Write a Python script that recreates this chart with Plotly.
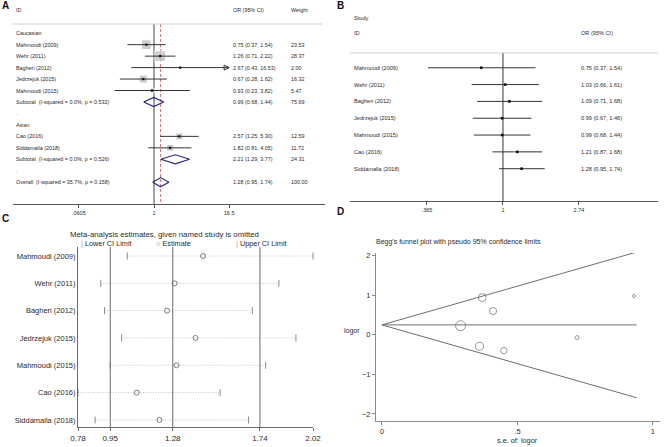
import math
import plotly.graph_objects as go

W, H = 669, 447

# ---- data -------------------------------------------------------------
studies = ["Mahmoudi (2009)", "Wehr (2011)", "Bagheri (2012)", "Jedrzejuk (2015)",
           "Mahmoudi (2015)", "Cao (2016)", "Siddamalla (2018)"]
ethnicity = ["Caucasian"] * 5 + ["Asian"] * 2

# A: subgroup forest plot
or_a = [0.75, 1.26, 2.67, 0.67, 0.93, 2.57, 1.82]
lo_a = [0.37, 0.71, 0.43, 0.28, 0.23, 1.25, 0.81]
hi_a = [1.54, 2.22, 16.53, 1.62, 3.82, 5.30, 4.05]
weight_a = [23.53, 28.37, 2.00, 16.32, 5.47, 12.59, 11.72]
groups = ["Caucasian", "Asian"]
sub_or = [0.99, 2.21]
sub_lo = [0.68, 1.29]
sub_hi = [1.44, 3.77]
sub_weight = [75.69, 24.31]
sub_het = ["(I-squared = 0.0%, p = 0.532)", "(I-squared = 0.0%, p = 0.526)"]
overall_or, overall_lo, overall_hi, overall_weight = 1.28, 0.95, 1.74, 100.00
overall_het = "(I-squared = 35.7%, p = 0.158)"
ticks_a = [0.0605, 1, 16.5]
ticktext_a = [".0605", "1", "16.5"]

# B: cumulative meta-analysis
cum_or = [0.75, 1.03, 1.09, 0.99, 0.99, 1.21, 1.28]
cum_lo = [0.37, 0.66, 0.71, 0.67, 0.68, 0.87, 0.95]
cum_hi = [1.54, 1.61, 1.68, 1.46, 1.44, 1.68, 1.74]
ticks_b = [0.365, 1, 2.74]
ticktext_b = [".365", "1", "2.74"]

# C: leave-one-out sensitivity
loo_lo = [1.04, 0.90, 0.92, 1.01, 0.95, 0.78, 0.87]
loo_est = [1.44, 1.29, 1.25, 1.40, 1.30, 1.09, 1.21]
loo_hi = [2.02, 1.84, 1.70, 1.93, 1.77, 1.53, 1.68]

# D: Begg's funnel plot
logor = [-0.29, 0.23, 0.98, -0.40, -0.07, 0.94, 0.60]
se_logor = [0.36, 0.29, 0.93, 0.45, 0.72, 0.37, 0.41]
limit_se = [0, 0.94]
limit_mid = [0.25, 0.25]
limit_up = [0.25, 2.09]
limit_low = [0.25, -1.59]

# ---- helpers ----------------------------------------------------------
FONT = "Liberation Sans, Arial, sans-serif"
TXT = "#2a2a2a"


def dom_x(a, b):
    return [a / W, b / W]


def dom_y(top, bottom):
    return [1 - bottom / H, 1 - top / H]


annots = []


def note(x, y, s, size, yref="paper", anchor="left", color=TXT, bold=False, ypx=True):
    annots.append(dict(
        x=x / W, y=(1 - y / H) if (yref == "paper" and ypx) else y,
        xref="paper", yref=yref, text=f"<b>{s}</b>" if bold else s,
        showarrow=False, xanchor=anchor, yanchor="middle",
        font=dict(size=size, color=color, family=FONT), borderpad=0))


fig = go.Figure()

# ---- panel A ----------------------------------------------------------
fs_a = 5.4
note(15, 10, "ID", fs_a)
note(232, 10, "OR (95% CI)", fs_a)
note(290, 10, "Weight", fs_a)

rows_a = []
row = 1
sub_rows = []
for grp in groups:
    note(15, row, grp, fs_a, yref="y", ypx=False)
    row += 1
    for e in ethnicity:
        if e == grp:
            rows_a.append(row)
            row += 1
    sub_rows.append(row)
    row += 1
    note(15, row, ".", fs_a, yref="y", ypx=False)
    row += 1
overall_row = row

top_a, axis_a = 0.2, 15.9
fig.add_trace(go.Scatter(x=[1, 1], y=[top_a, axis_a], mode="lines",
                         line=dict(color="#7a7a7a", width=1.4), xaxis="x", yaxis="y"))
fig.add_trace(go.Scatter(x=[overall_or, overall_or], y=[top_a, axis_a], mode="lines",
                         line=dict(color="#b03030", width=0.7, dash="3px,2px"),
                         xaxis="x", yaxis="y"))

cx, cy = [], []
arrow_x, arrow_y = [], []
for i in range(len(studies)):
    r = rows_a[i]
    hi = min(hi_a[i], ticks_a[-1])
    cx += [lo_a[i], hi, None]
    cy += [r, r, None]
    if hi_a[i] > ticks_a[-1]:
        arrow_x.append(hi)
        arrow_y.append(r)
    note(15, r, studies[i], fs_a, yref="y", ypx=False)
    note(232, r, f"{or_a[i]:.2f} ({lo_a[i]:.2f}, {hi_a[i]:.2f})", fs_a, yref="y", ypx=False)
    note(290, r, f"{weight_a[i]:.2f}", fs_a, yref="y", ypx=False)

fig.add_trace(go.Scatter(x=or_a, y=rows_a, mode="markers",
                         marker=dict(symbol="square", color="#b8b8b8",
                                     size=[2.0 * math.sqrt(w) for w in weight_a]),
                         xaxis="x", yaxis="y"))
fig.add_trace(go.Scatter(x=cx, y=cy, mode="lines", line=dict(color="#333333", width=1),
                         xaxis="x", yaxis="y"))
fig.add_trace(go.Scatter(x=arrow_x, y=arrow_y, mode="markers",
                         marker=dict(symbol="arrow-right-open", size=5, color="#333333",
                                     line=dict(width=1, color="#333333")),
                         xaxis="x", yaxis="y", cliponaxis=False))
fig.add_trace(go.Scatter(x=or_a, y=rows_a, mode="markers",
                         marker=dict(symbol="square", color="#111111", size=2.2),
                         xaxis="x", yaxis="y"))

h = 0.4
dia_or = sub_or + [overall_or]
dia_lo = sub_lo + [overall_lo]
dia_hi = sub_hi + [overall_hi]
dia_rows = sub_rows + [overall_row]
dx, dy = [], []
for k in range(len(dia_or)):
    r = dia_rows[k]
    dx += [dia_lo[k], dia_or[k], dia_hi[k], dia_or[k], dia_lo[k], None]
    dy += [r, r - h, r, r + h, r, None]
fig.add_trace(go.Scatter(x=dx, y=dy, mode="lines", line=dict(color="#26267a", width=1.1),
                         xaxis="x", yaxis="y"))

for k in range(len(groups)):
    r = sub_rows[k]
    note(15, r, "Subtotal  " + sub_het[k], fs_a, yref="y", ypx=False)
    note(232, r, f"{sub_or[k]:.2f} ({sub_lo[k]:.2f}, {sub_hi[k]:.2f})", fs_a, yref="y", ypx=False)
    note(290, r, f"{sub_weight[k]:.2f}", fs_a, yref="y", ypx=False)
note(15, overall_row, "Overall  " + overall_het, fs_a, yref="y", ypx=False)
note(232, overall_row, f"{overall_or:.2f} ({overall_lo:.2f}, {overall_hi:.2f})", fs_a,
     yref="y", ypx=False)
note(290, overall_row, f"{overall_weight:.2f}", fs_a, yref="y", ypx=False)

# ---- panel B ----------------------------------------------------------
fs_b = 5.6
note(353, 18, "Study", fs_b)
note(353, 33, "ID", fs_b)
note(580, 33, "OR (95% CI)", fs_b)
rows_b = list(range(1, len(studies) + 1))
fig.add_trace(go.Scatter(x=[1, 1], y=[0.11, 8.92], mode="lines",
                         line=dict(color="#333333", width=1), xaxis="x2", yaxis="y2"))
bx, by = [], []
for i, r in enumerate(rows_b):
    bx += [cum_lo[i], cum_hi[i], None]
    by += [r, r, None]
    note(353, r, studies[i], fs_b, yref="y2", ypx=False)
    note(580, r, f"{cum_or[i]:.2f} ({cum_lo[i]:.2f}, {cum_hi[i]:.2f})", fs_b,
         yref="y2", ypx=False)
fig.add_trace(go.Scatter(x=bx, y=by, mode="lines", line=dict(color="#333333", width=1),
                         xaxis="x2", yaxis="y2"))
fig.add_trace(go.Scatter(x=cum_or, y=rows_b, mode="markers",
                         marker=dict(symbol="square", color="#111111", size=2.6),
                         xaxis="x2", yaxis="y2"))

# ---- panel C ----------------------------------------------------------
rows_c = list(range(1, len(studies) + 1))
lx, ly = [], []
for i, r in enumerate(rows_c):
    lx += [loo_lo[i], loo_hi[i], None]
    ly += [r, r, None]
fig.add_trace(go.Scatter(x=lx, y=ly, mode="lines",
                         line=dict(color="#b8b8b8", width=0.8, dash="1px,1.5px"),
                         xaxis="x3", yaxis="y3"))
fig.add_trace(go.Scatter(x=loo_lo + loo_hi, y=rows_c + rows_c, mode="markers",
                         marker=dict(symbol="line-ns", size=5,
                                     line=dict(color="#8a8a8a", width=1)),
                         xaxis="x3", yaxis="y3", cliponaxis=False))
fig.add_trace(go.Scatter(x=loo_est, y=rows_c, mode="markers",
                         marker=dict(symbol="circle-open", size=5, color="#7a7a7a",
                                     line=dict(width=1)),
                         xaxis="x3", yaxis="y3", cliponaxis=False))
ticks_c = [min(loo_lo), overall_lo, overall_or, overall_hi, max(loo_hi)]
shapes = []
for v in [overall_lo, overall_or, overall_hi]:
    shapes.append(dict(type="line", xref="x3", yref="y3 domain", x0=v, x1=v, y0=0, y1=1,
                       line=dict(color="#6a6a6a", width=1)))

note(164, 234, "Meta-analysis estimates, given named study is omitted", 7.8, anchor="center")
note(80, 243, "<span style='color:#9a9a9a'>|</span> Lower CI Limit", 7.3)
note(155, 243, "<span style='color:#8a8a8a'>○</span> Estimate", 7.3)
note(235, 243, "<span style='color:#9a9a9a'>|</span> Upper CI Limit", 7.3)

# ---- panel D ----------------------------------------------------------
for lim in [limit_mid, limit_up, limit_low]:
    fig.add_trace(go.Scatter(x=limit_se, y=lim, mode="lines",
                             line=dict(color="#6e6e6e", width=1), xaxis="x4", yaxis="y4"))
fig.add_trace(go.Scatter(x=se_logor, y=logor, mode="markers",
                         marker=dict(symbol="circle-open", color="#6e6e6e",
                                     size=[2.9 / s for s in se_logor], line=dict(width=1)),
                         xaxis="x4", yaxis="y4"))
note(375, 242, "Begg's funnel plot with pseudo 95% confidence limits", 7)
note(352, 331, "logor", 7, anchor="center")
note(517, 440, "s.e. of: logor", 7.3, anchor="center")

# panel letters
note(1, 6, "A", 10, bold=True, color="#111")
note(336, 6, "B", 10, bold=True, color="#111")
note(1, 218, "C", 10, bold=True, color="#111")
note(336, 211, "D", 10, bold=True, color="#111")

# header rules for A and B
shapes.append(dict(type="line", xref="paper", yref="paper", x0=13 / W, x1=322 / W,
                   y0=1 - 24 / H, y1=1 - 24 / H, line=dict(color="#d0d0d0", width=1)))
shapes.append(dict(type="line", xref="paper", yref="paper", x0=350 / W, x1=658 / W,
                   y0=1 - 53 / H, y1=1 - 53 / H, line=dict(color="#d0d0d0", width=1)))

ax_common = dict(showgrid=False, zeroline=False, showline=True, linewidth=1,
                 ticks="outside", tickwidth=1)

fig.update_layout(
    template="none",
    width=W, height=H, margin=dict(l=0, r=0, t=0, b=0), autosize=False,
    paper_bgcolor="white", plot_bgcolor="white", showlegend=False,
    font=dict(family=FONT, color=TXT),
    xaxis=dict(domain=dom_x(13, 325), anchor="y", type="log", range=[-2.285, 2.771],
               tickvals=ticks_a, ticktext=ticktext_a, ticklen=3, linecolor="#555",
               tickcolor="#555", tickfont=dict(size=5.5, color=TXT), **ax_common),
    yaxis=dict(domain=dom_y(5, 204), anchor="x", range=[axis_a, -1.46], visible=False),
    xaxis2=dict(domain=dom_x(350, 658), anchor="y2", type="log", range=[-0.881, 0.893],
                tickvals=ticks_b, ticktext=ticktext_b, ticklen=3, linecolor="#555",
                tickcolor="#555", tickfont=dict(size=5.5, color=TXT), **ax_common),
    yaxis2=dict(domain=dom_y(5, 201), anchor="x2", range=[8.92, -2.73], visible=False),
    xaxis3=dict(domain=dom_x(78, 313), anchor="y3", range=[min(loo_lo), max(loo_hi)],
                tickvals=ticks_c, ticktext=[f"{v:.2f}" for v in ticks_c], ticklen=3,
                linecolor="#6a6a6a", tickcolor="#6a6a6a",
                tickfont=dict(size=8, color=TXT), **ax_common),
    yaxis3=dict(domain=dom_y(247, 427), anchor="x3", range=[7.26, 0.67],
                tickvals=rows_c, ticktext=studies, showgrid=False, zeroline=False,
                showline=True, linecolor="#6a6a6a", linewidth=1, ticks="",
                tickfont=dict(size=7.5, color=TXT)),
    xaxis4=dict(domain=dom_x(376, 660), anchor="y4", range=[-0.022, 1.026],
                tickvals=[0, 0.5, 1], ticktext=["0", ".5", "1"], ticklen=3,
                linecolor="#8a8a8a", tickcolor="#8a8a8a",
                tickfont=dict(size=7.5, color=TXT), **ax_common),
    yaxis4=dict(domain=dom_y(253, 421), anchor="x4", range=[-2.177, 2.066],
                tickvals=[-2, -1, 0, 1, 2], ticklen=3, tickangle=0,
                linecolor="#8a8a8a", tickcolor="#8a8a8a",
                tickfont=dict(size=7.5, color=TXT), **ax_common),
    annotations=annots, shapes=shapes,
)

# the page body has a default 8px margin; drop it so the figure fills the window
fig.write_html("out.html", config={"displayModeBar": False},
               post_script="document.body.style.margin='0px';")
